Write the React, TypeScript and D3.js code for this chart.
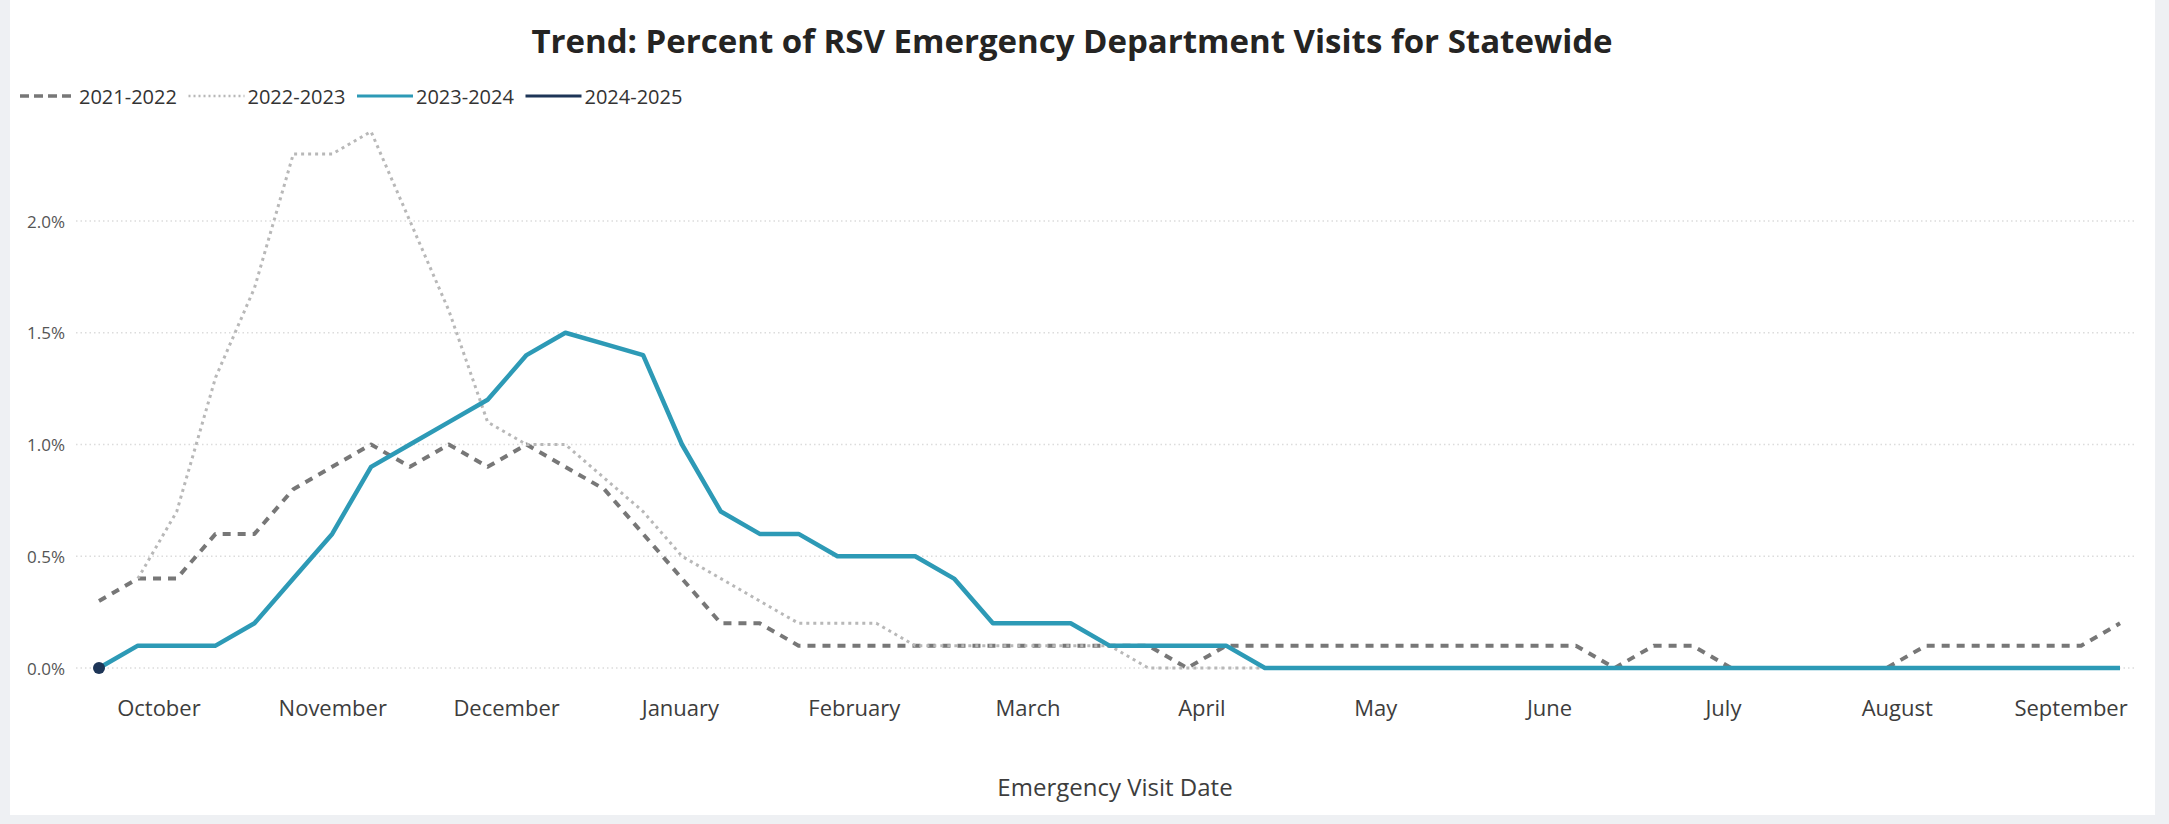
import React from "react";
import * as d3 from "d3";

// Month labels along the season axis (October through September)
const months = [
  "October", "November", "December", "January", "February", "March",
  "April", "May", "June", "July", "August", "September",
];

// Y-axis gridline values (percent)
const yTicks = [0, 0.5, 1.0, 1.5, 2.0];

// Weekly percent of ED visits for RSV, one entry per season week
const season2021 = [
  0.3, 0.4, 0.4, 0.6, 0.6, 0.8, 0.9, 1.0, 0.9, 1.0,
  0.9, 1.0, 0.9, 0.8, 0.6, 0.4, 0.2, 0.2, 0.1, 0.1,
  0.1, 0.1, 0.1, 0.1, 0.1, 0.1, 0.1, 0.1, 0.0, 0.1,
  0.1, 0.1, 0.1, 0.1, 0.1, 0.1, 0.1, 0.1, 0.1, 0.0,
  0.1, 0.1, 0.0, 0.0, 0.0, 0.0, 0.0, 0.1, 0.1, 0.1,
  0.1, 0.1, 0.2,
];

const season2022: (number | null)[] = [
  null, 0.4, 0.7, 1.3, 1.7, 2.3, 2.3, 2.4, 2.0, 1.6,
  1.1, 1.0, 1.0, 0.85, 0.7, 0.5, 0.4, 0.3, 0.2, 0.2,
  0.2, 0.1, 0.1, 0.1, 0.1, 0.1, 0.1, 0.0, 0.0, 0.0,
  0.0, 0.0, 0.0, 0.0, 0.0, 0.0, 0.0, 0.0, 0.0, 0.0,
  0.0, 0.0, 0.0, 0.0, 0.0, 0.0, 0.0, 0.0, 0.0, 0.0,
  0.0, 0.0, 0.0,
];

const season2023 = [
  0.0, 0.1, 0.1, 0.1, 0.2, 0.4, 0.6, 0.9, 1.0, 1.1,
  1.2, 1.4, 1.5, 1.45, 1.4, 1.0, 0.7, 0.6, 0.6, 0.5,
  0.5, 0.5, 0.4, 0.2, 0.2, 0.2, 0.1, 0.1, 0.1, 0.1,
  0.0, 0.0, 0.0, 0.0, 0.0, 0.0, 0.0, 0.0, 0.0, 0.0,
  0.0, 0.0, 0.0, 0.0, 0.0, 0.0, 0.0, 0.0, 0.0, 0.0,
  0.0, 0.0, 0.0,
];

const season2024 = [0.0];

const seasonNames = ["2021-2022", "2022-2023", "2023-2024", "2024-2025"];

const W = 2169;
const H = 824;
const FONT = "'Segoe UI', 'Open Sans', 'Noto Sans', sans-serif";

const seriesStyle = [
  { color: "#777777", width: 4, dash: "8 7" },
  { color: "#b8b8b8", width: 3, dash: "3 4" },
  { color: "#2d9ab6", width: 4.5, dash: "" },
  { color: "#1d3557", width: 4, dash: "" },
];

export default function App() {
  const weeks = season2021.length;
  const x = d3.scaleLinear().domain([0, weeks - 1]).range([99, 2120]);
  const monthBand = d3.scaleBand<string>().domain(months).range([72, 2158]);
  const y = d3.scaleLinear().domain([0, 2]).range([668, 221]);

  const line = d3
    .line<number | null>()
    .defined((d) => d !== null)
    .x((_, i) => x(i))
    .y((d) => y(d as number));

  const allSeries: (number | null)[][] = [season2021, season2022, season2023, season2024];

  const legendStart = 20;
  const legendStep = 168.5;
  const legendY = 96;

  return (
    <svg
      width={W}
      height={H}
      style={{ position: "absolute", left: 0, top: 0, display: "block" }}
      fontFamily={FONT}
    >
      <rect x={0} y={0} width={W} height={H} fill="#eef0f3" />
      <rect x={10} y={0} width={2145} height={815} fill="#ffffff" />

      {/* Title */}
      <text
        x={1072}
        y={53}
        textAnchor="middle"
        fontSize={33}
        fontWeight={700}
        fill="#252423"
      >
        Trend: Percent of RSV Emergency Department Visits for Statewide
      </text>

      {/* Legend */}
      {seasonNames.map((name, i) => {
        const lx = legendStart + i * legendStep;
        const st = seriesStyle[i];
        return (
          <g key={name}>
            <line
              x1={lx}
              x2={lx + 56}
              y1={legendY}
              y2={legendY}
              stroke={st.color}
              strokeWidth={i < 2 ? st.width - 0.5 : 3}
              strokeDasharray={i === 0 ? "9 5" : i === 1 ? "2 3" : undefined}
            />
            <text
              x={lx + 59}
              y={legendY}
              dominantBaseline="central"
              fontSize={20}
              fill="#333333"
            >
              {name}
            </text>
          </g>
        );
      })}

      {/* Gridlines and y labels */}
      {yTicks.map((t) => (
        <g key={t}>
          <line
            x1={76}
            x2={2136}
            y1={y(t)}
            y2={y(t)}
            stroke="#dcdcdc"
            strokeWidth={1.5}
            strokeDasharray="1.5 3"
          />
          <text
            x={65}
            y={y(t)}
            textAnchor="end"
            dominantBaseline="central"
            fontSize={17}
            fill="#555555"
          >
            {d3.format(".1f")(t) + "%"}
          </text>
        </g>
      ))}

      {/* Month labels */}
      {months.map((m) => (
        <text
          key={m}
          x={(monthBand(m) as number) + monthBand.bandwidth() / 2}
          y={707}
          textAnchor="middle"
          dominantBaseline="central"
          fontSize={22}
          fill="#3d3d3d"
        >
          {m}
        </text>
      ))}

      {/* Axis title */}
      <text
        x={(monthBand.range()[0] + monthBand.range()[1]) / 2}
        y={786}
        textAnchor="middle"
        dominantBaseline="central"
        fontSize={24}
        fill="#3d3d3d"
      >
        Emergency Visit Date
      </text>

      {/* Season lines */}
      {allSeries.map((vals, i) => {
        const st = seriesStyle[i];
        if (vals.length === 1) {
          return (
            <circle
              key={i}
              cx={x(0)}
              cy={y(vals[0] as number)}
              r={6}
              fill={st.color}
            />
          );
        }
        return (
          <path
            key={i}
            d={line(vals) || ""}
            fill="none"
            stroke={st.color}
            strokeWidth={st.width}
            strokeDasharray={st.dash || undefined}
            strokeLinejoin="round"
          />
        );
      })}
    </svg>
  );
}
